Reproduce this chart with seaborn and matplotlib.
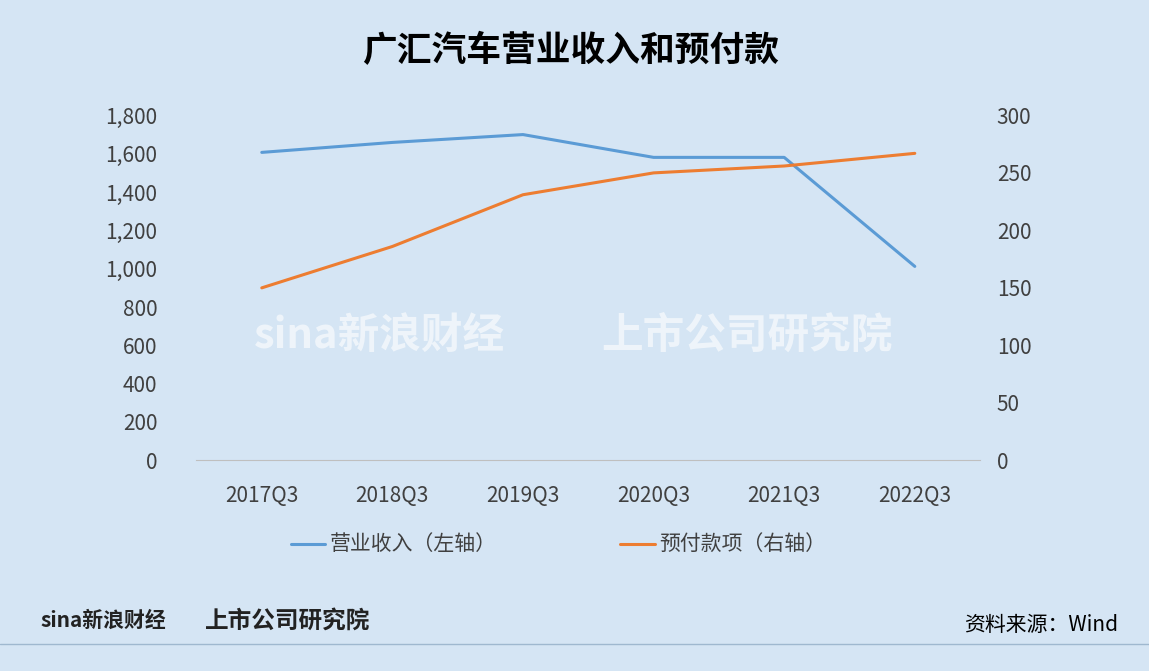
import matplotlib
matplotlib.use("Agg")
import matplotlib.pyplot as plt
import seaborn as sns
import pandas as pd

categories = ["2017Q3", "2018Q3", "2019Q3", "2020Q3", "2021Q3", "2022Q3"]
revenue = [1607, 1659, 1700, 1581, 1581, 1012]
prepaid = [150, 186, 231, 250, 256, 267]
left_ticks = [0, 200, 400, 600, 800, 1000, 1200, 1400, 1600, 1800]
right_ticks = [0, 50, 100, 150, 200, 250, 300]

sns.set_style("white")
plt.rcParams['font.family'] = ['Noto Sans CJK SC', 'DejaVu Sans']
bg = "#d5e5f4"
blue = "#5b9bd5"
orange = "#ed7d31"

df = pd.DataFrame({"q": categories, "rev": revenue, "pre": prepaid})
fig = plt.figure(figsize=(11.49, 6.71), dpi=100, facecolor=bg)
ax = fig.add_axes([0.171, 0.314, 0.682, 0.514])
ax.set_facecolor(bg)
ax2 = ax.twinx()
sns.lineplot(data=df, x="q", y="rev", ax=ax, color=blue, lw=2.2, sort=False)
sns.lineplot(data=df, x="q", y="pre", ax=ax2, color=orange, lw=2.2, sort=False)
ax.set_ylim(0, 1800); ax2.set_ylim(0, 300)
ax.set_xlim(-0.5, 5.5)
ax.set_yticks(left_ticks); ax.set_yticklabels([f"{v:,}" for v in left_ticks])
ax2.set_yticks(right_ticks)
for a in (ax, ax2):
    a.set_xlabel(""); a.set_ylabel("")
    for s in a.spines.values():
        s.set_visible(False)
    a.tick_params(length=0, labelsize=15, colors="#404040")
ax.spines["bottom"].set_visible(True)
ax.spines["bottom"].set_color("#bfbfbf")
ax.tick_params(axis="x", pad=18)
ax.tick_params(axis="y", pad=28)
ax2.tick_params(axis="y", pad=12)

fig.text(0.497, 0.925, "广汇汽车营业收入和预付款", ha="center", va="center", fontsize=25, fontweight="bold", color="black")
# legend
fig.add_artist(plt.Line2D([0.253, 0.283], [0.189, 0.189], color=blue, lw=2.2))
fig.text(0.287, 0.189, "营业收入（左轴）", va="center", fontsize=15, color="#404040")
fig.add_artist(plt.Line2D([0.540, 0.570], [0.189, 0.189], color=orange, lw=2.2))
fig.text(0.574, 0.189, "预付款项（右轴）", va="center", fontsize=15, color="#404040")
# watermark
fig.text(0.33, 0.50, "sina新浪财经", ha="center", va="center", fontsize=30, color="white", alpha=0.6, fontweight="bold")
fig.text(0.65, 0.50, "上市公司研究院", ha="center", va="center", fontsize=30, color="white", alpha=0.6, fontweight="bold", style="italic")
# footer
fig.add_artist(plt.Line2D([0, 1], [0.04, 0.04], color="#9fb8cf", lw=1))
fig.text(0.035, 0.075, "sina新浪财经", va="center", fontsize=15, color="#222222", fontweight="bold")
fig.text(0.178, 0.075, "上市公司研究院", va="center", fontsize=17, color="#222222", fontweight="bold", style="italic")
fig.text(0.973, 0.068, "资料来源：Wind", ha="right", va="center", fontsize=15, color="black")
fig.savefig("out.png", dpi=100, facecolor=bg)
